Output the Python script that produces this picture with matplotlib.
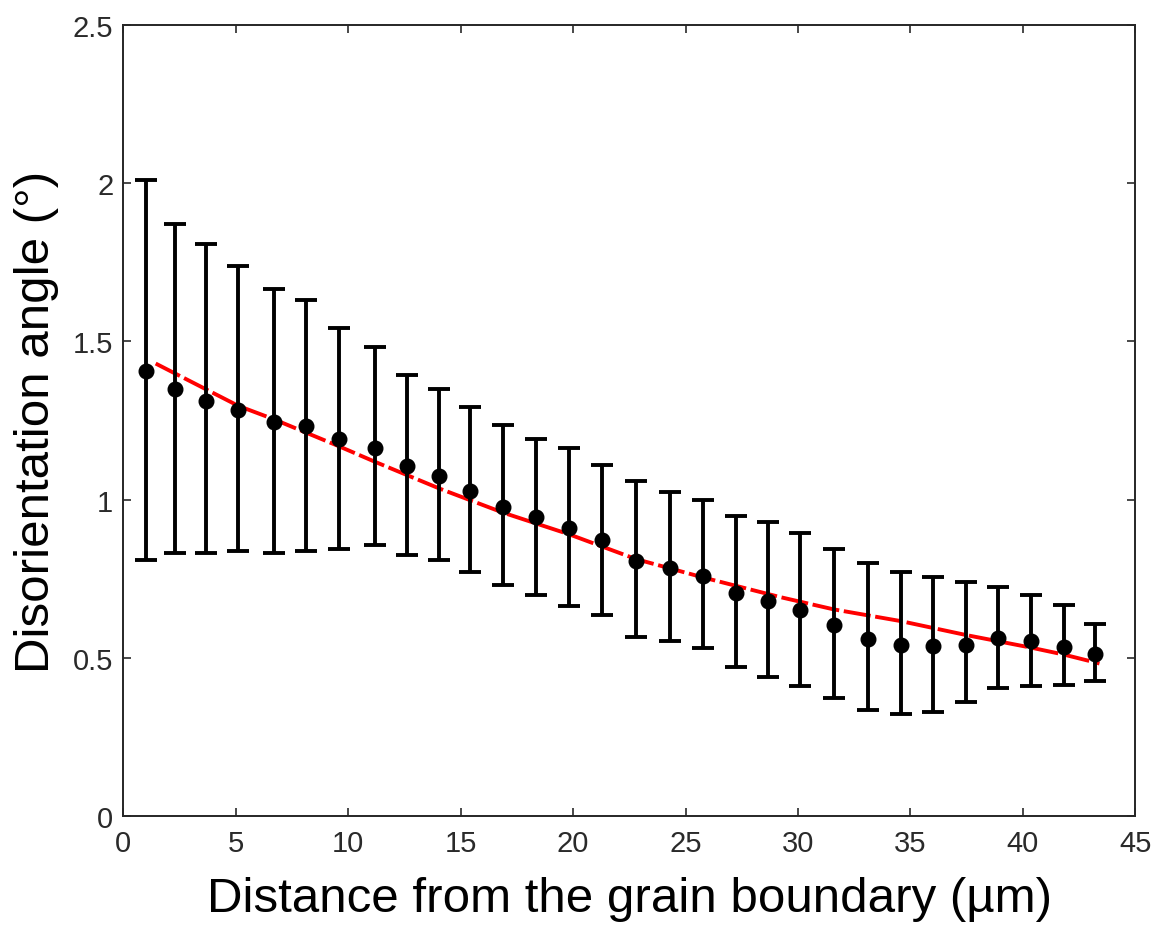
import matplotlib.pyplot as plt

# distance from the grain boundary (um)
dist = [1.04, 2.30, 3.69, 5.10, 6.70, 8.12, 9.61, 11.18, 12.61, 14.06,
        15.43, 16.88, 18.36, 19.80, 21.28, 22.80, 24.29, 25.78, 27.24, 28.66,
        30.10, 31.59, 33.13, 34.57, 36.01, 37.47, 38.88, 40.37, 41.83, 43.20]
# mean disorientation angle (deg)
angle = [1.408, 1.348, 1.313, 1.282, 1.244, 1.232, 1.193, 1.162, 1.106, 1.075,
         1.028, 0.978, 0.946, 0.909, 0.873, 0.806, 0.785, 0.759, 0.705, 0.681,
         0.650, 0.603, 0.561, 0.542, 0.537, 0.542, 0.563, 0.553, 0.534, 0.511]
upper = [2.01, 1.87, 1.807, 1.739, 1.666, 1.63, 1.542, 1.483, 1.394, 1.348,
         1.294, 1.236, 1.192, 1.163, 1.110, 1.060, 1.023, 0.999, 0.949, 0.930,
         0.893, 0.845, 0.800, 0.771, 0.755, 0.740, 0.724, 0.697, 0.666, 0.607]
lower = [0.81, 0.831, 0.831, 0.838, 0.831, 0.838, 0.845, 0.855, 0.824, 0.81,
         0.772, 0.730, 0.700, 0.665, 0.635, 0.567, 0.554, 0.530, 0.472, 0.439,
         0.410, 0.374, 0.335, 0.321, 0.329, 0.360, 0.403, 0.410, 0.414, 0.426]

# fitted trend (red dashed)
fit_x = [1.45, 5.13, 6.70, 9.58, 11.18, 14.06, 16.88, 19.80, 22.80, 25.78,
         29.2, 31.59, 34.57, 37.47, 40.37, 41.83, 43.4]
fit_y = [1.43, 1.296, 1.254, 1.169, 1.12, 1.035, 0.959, 0.891, 0.812, 0.754,
         0.692, 0.653, 0.616, 0.572, 0.532, 0.51, 0.482]

err_lo = [a - l for a, l in zip(angle, lower)]
err_hi = [u - a for a, u in zip(angle, upper)]

plt.rcParams['font.family'] = ['Liberation Sans', 'DejaVu Sans']

fig = plt.figure(figsize=(11.61, 9.28), dpi=100)
ax = fig.add_axes([0.106, 0.1196, 0.872, 0.8524])

ax.errorbar(dist, angle, yerr=[err_lo, err_hi], fmt='o', color='black',
            ecolor='black', elinewidth=2.8, capsize=8, capthick=2.8,
            markersize=10.5, zorder=3)
ax.plot(fit_x, fit_y, color='red', linestyle=(0, (7, 1.2)), linewidth=2.8, zorder=2)

ax.set_xlim(0, 45)
ax.set_ylim(0, 2.5)
ax.set_xticks(range(0, 46, 5))
ax.set_yticks([0, 0.5, 1, 1.5, 2, 2.5])
ax.set_yticklabels(['0', '0.5', '1', '1.5', '2', '2.5'])
ax.tick_params(direction='in', length=6, width=1.2, colors='#2a2a2a',
               labelsize=21, top=True, right=True, pad=7)
ax.tick_params(axis='x', pad=9)
for s in ax.spines.values():
    s.set_color('#262626')
    s.set_linewidth(1.4)

ax.set_xlabel('Distance from the grain boundary (µm)', fontsize=35.5, labelpad=14)
ax.set_ylabel('Disorientation angle (°)', fontsize=35.5, labelpad=10)

fig.savefig('out.png', dpi=100)
